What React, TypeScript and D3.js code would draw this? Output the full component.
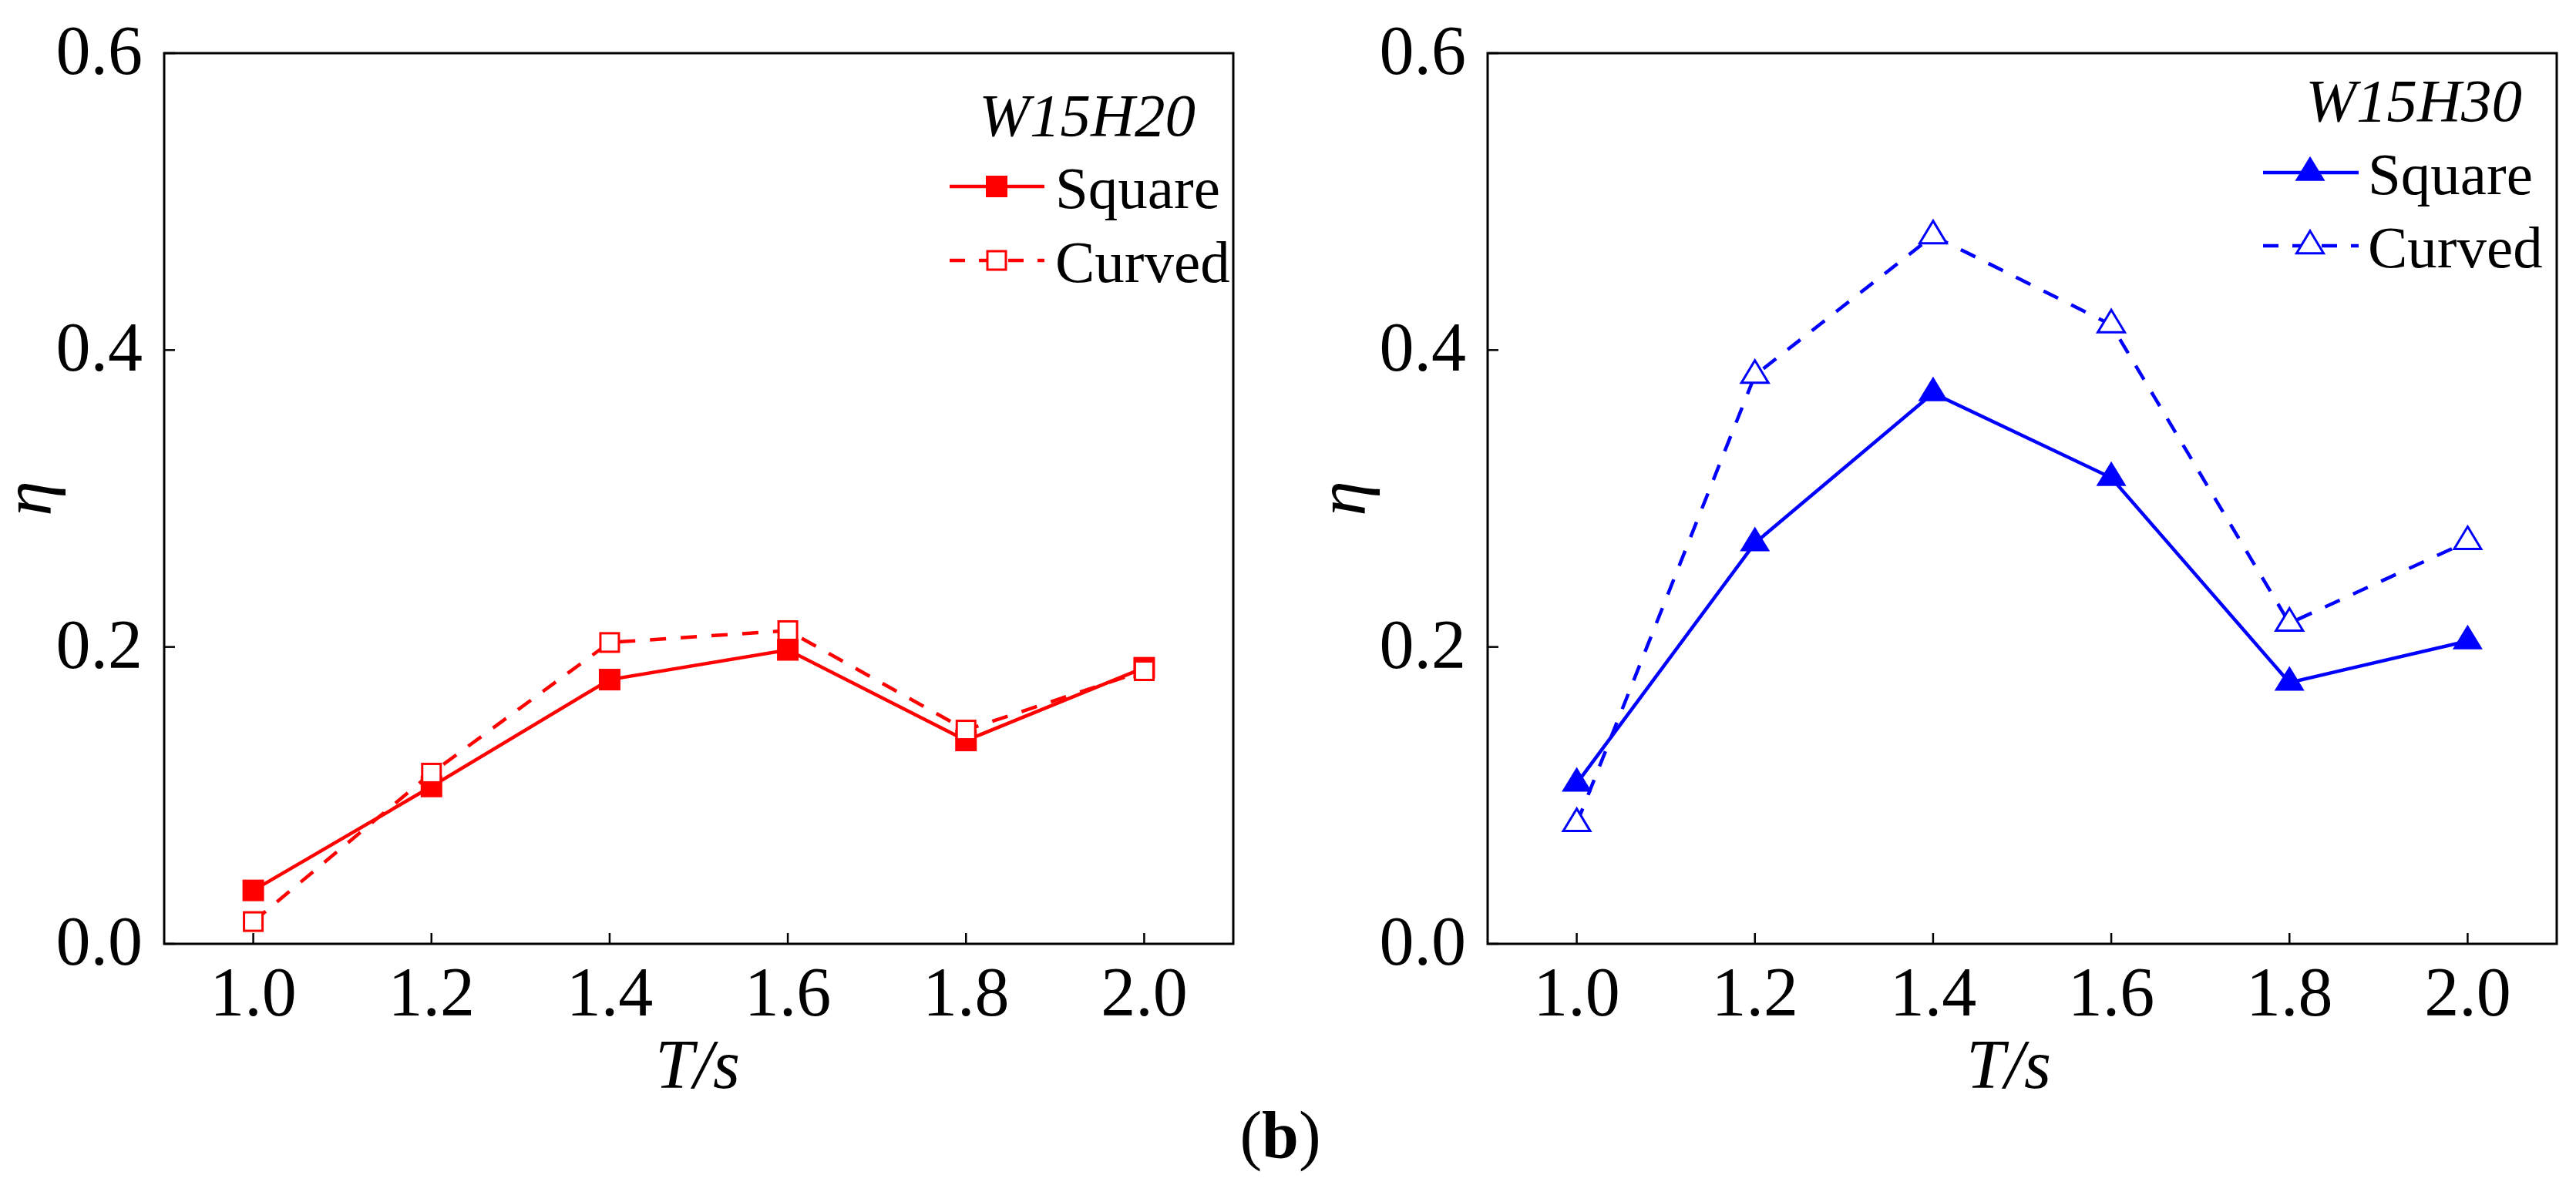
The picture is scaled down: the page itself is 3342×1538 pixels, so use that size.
import React from 'react';
import * as d3 from 'd3';

// ---- data ----
const periods = [1.0, 1.2, 1.4, 1.6, 1.8, 2.0];
const xTicks = [1.0, 1.2, 1.4, 1.6, 1.8, 2.0];
const yTicks = [0.0, 0.2, 0.4, 0.6];
const seriesNames = ['Square', 'Curved'];
const panelTitles = ['W15H20', 'W15H30'];
const w15h20Square = [0.036, 0.106, 0.178, 0.198, 0.137, 0.186];
const w15h20Curved = [0.015, 0.115, 0.203, 0.211, 0.144, 0.184];
const w15h30Square = [0.108, 0.270, 0.371, 0.314, 0.176, 0.204];
const w15h30Curved = [0.081, 0.383, 0.477, 0.417, 0.216, 0.271];
const panelLabel = 'b';

// ---- layout ----
const W = 3342;
const H = 1538;
const FONT = "'Liberation Serif', 'Times New Roman', Tinos, serif";
const TOP = 69;
const BOTTOM = 1225;

interface PanelCfg {
  left: number;
  right: number;
  color: string;
  marker: 'square' | 'triangle';
  title: string;
  square: number[];
  curved: number[];
  etaX: number;
  titleX: number;
  legTitleX: number;
  legTitleY: number;
  legLineX0: number;
  legLineX1: number;
  legMarkX: number;
  legTextX: number;
  legRow1: number;
  legRow2: number;
}

const panels: PanelCfg[] = [
  {
    left: 213, right: 1600, color: '#FF0000', marker: 'square', title: panelTitles[0],
    square: w15h20Square, curved: w15h20Curved,
    etaX: 66, titleX: 905,
    legTitleX: 1551, legTitleY: 176,
    legLineX0: 1232, legLineX1: 1355, legMarkX: 1293, legTextX: 1369,
    legRow1: 242, legRow2: 338,
  },
  {
    left: 1930, right: 3317, color: '#0000FF', marker: 'triangle', title: panelTitles[1],
    square: w15h30Square, curved: w15h30Curved,
    etaX: 1771, titleX: 2606,
    legTitleX: 3272, legTitleY: 157,
    legLineX0: 2936, legLineX1: 3060, legMarkX: 2997, legTextX: 3072,
    legRow1: 224, legRow2: 319,
  },
];

const txt = (size: number, italic = false, bold = false): React.CSSProperties => ({
  fontFamily: FONT,
  fontSize: `${size}px`,
  fontStyle: italic ? 'italic' : 'normal',
  fontWeight: bold ? 'bold' : 'normal',
});

function trianglePath(w: number, h: number): string {
  // centroid at origin
  return `M0,${-2 * h / 3}L${w / 2},${h / 3}L${-w / 2},${h / 3}Z`;
}

function Marker({ kind, filled, color, x, y }: { kind: 'square' | 'triangle'; filled: boolean; color: string; x: number; y: number }) {
  if (kind === 'square') {
    if (filled) {
      return <rect x={x - 14} y={y - 14} width={28} height={28} fill={color} />;
    }
    return <rect x={x - 12} y={y - 12} width={24} height={24} fill="#fff" stroke={color} strokeWidth={3} />;
  }
  if (filled) {
    return <path transform={`translate(${x},${y})`} d={trianglePath(39, 32)} fill={color} />;
  }
  return <path transform={`translate(${x},${y})`} d={trianglePath(35, 29)} fill="#fff" stroke={color} strokeWidth={3} strokeLinejoin="miter" />;
}

function Panel({ p }: { p: PanelCfg }) {
  const x = d3.scaleLinear().domain([0.9, 2.1]).range([p.left, p.right]);
  const y = d3.scaleLinear().domain([0, 0.6]).range([BOTTOM, TOP]);
  const line = d3.line<number>().x((_, i) => x(periods[i])).y((v) => y(v));
  const series = [
    { name: seriesNames[0], values: p.square, filled: true, dash: undefined as string | undefined },
    { name: seriesNames[1], values: p.curved, filled: false, dash: '21 19' },
  ];
  return (
    <g>
      {/* frame */}
      <rect x={p.left} y={TOP} width={p.right - p.left} height={BOTTOM - TOP} fill="none" stroke="#000" strokeWidth={3} />
      {/* x ticks */}
      {xTicks.map((t) => (
        <g key={'x' + t}>
          <line x1={x(t)} x2={x(t)} y1={BOTTOM} y2={BOTTOM - 14} stroke="#000" strokeWidth={2.5} />
          <text x={x(t)} y={1318} textAnchor="middle" style={txt(90)}>{t.toFixed(1)}</text>
        </g>
      ))}
      {/* y ticks */}
      {yTicks.map((t) => (
        <g key={'y' + t}>
          <line x1={p.left} x2={p.left + 14} y1={y(t)} y2={y(t)} stroke="#000" strokeWidth={2.5} />
          <text x={p.left - 28} y={y(t) + 27} textAnchor="end" style={txt(90)}>{t.toFixed(1)}</text>
        </g>
      ))}
      {/* axis titles */}
      <text transform={`translate(${p.etaX},${(TOP + BOTTOM) / 2}) rotate(-90)`} textAnchor="middle" style={txt(92, true)}>η</text>
      <text x={p.titleX} y={1412} textAnchor="middle" style={txt(90, true)}>T/s</text>
      {/* data */}
      {series.map((s) => (
        <g key={s.name}>
          <path d={line(s.values) || ''} fill="none" stroke={p.color} strokeWidth={4.5} strokeDasharray={s.dash} />
          {s.values.map((v, i) => (
            <Marker key={i} kind={p.marker} filled={s.filled} color={p.color} x={x(periods[i])} y={y(v)} />
          ))}
        </g>
      ))}
      {/* legend */}
      <text x={p.legTitleX} y={p.legTitleY} textAnchor="end" style={txt(79, true)}>{p.title}</text>
      {series.map((s, k) => {
        const ry = k === 0 ? p.legRow1 : p.legRow2;
        return (
          <g key={'leg' + s.name}>
            <line x1={p.legLineX0} x2={p.legLineX1} y1={ry} y2={ry} stroke={p.color} strokeWidth={4.5} strokeDasharray={s.dash ? '20 18' : undefined} />
            <Marker kind={p.marker} filled={s.filled} color={p.color} x={p.legMarkX} y={ry} />
            <text x={p.legTextX} y={ry + 28} style={txt(77)}>{s.name}</text>
          </g>
        );
      })}
    </g>
  );
}

export default function App() {
  return (
    <svg width={W} height={H} viewBox={`0 0 ${W} ${H}`} style={{ position: 'absolute', left: 0, top: 0, background: '#fff' }}>
      <rect x={0} y={0} width={W} height={H} fill="#fff" />
      {panels.map((p) => (
        <Panel key={p.title} p={p} />
      ))}
      <text x={1661} y={1502} textAnchor="middle" style={txt(86)}>
        (<tspan style={{ fontWeight: 'bold' }}>{panelLabel}</tspan>)
      </text>
    </svg>
  );
}
